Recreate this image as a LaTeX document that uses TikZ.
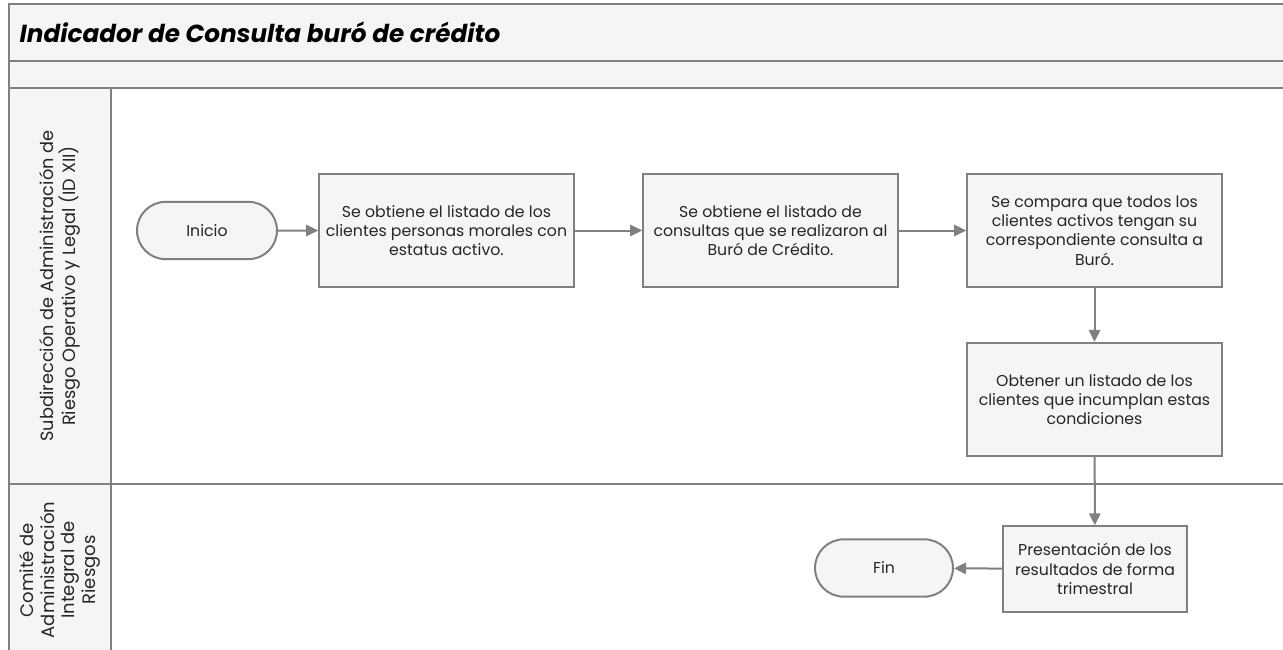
\documentclass[tikz,border=0pt]{standalone}
\usepackage{fontspec}
\setmainfont{Poppins}
\usetikzlibrary{arrows.meta,positioning,shapes.misc}
\definecolor{linegray}{RGB}{128,128,128}
\definecolor{boxgray}{RGB}{245,245,245}
\tikzset{
  lane/.style={draw=linegray,line width=1.5pt},
  proc/.style={draw=linegray,fill=boxgray,line width=1.5pt,minimum width=191pt,minimum height=85pt,inner sep=0pt,align=center,font=\fontsize{11.8}{14.5}\selectfont,text=black!85},
  term/.style={rounded rectangle,draw=linegray,fill=boxgray,line width=1.5pt,minimum width=105pt,minimum height=43pt,inner sep=0pt,font=\fontsize{11.8}{14.5}\selectfont,text=black!85},
  flow/.style={draw=linegray,line width=1.5pt,-{Triangle[length=9pt,width=8.5pt]}},
  lanelabel/.style={rotate=90,align=center,font=\fontsize{13.3}{16}\selectfont,text=black!85}
}
\begin{document}
\begin{tikzpicture}[x=0.75pt,y=-0.75pt]
\useasboundingbox (0,0) rectangle (1283,650);
\clip (0,0) rectangle (1283,650);
% pool and lanes
\fill[boxgray] (9,4) rectangle (1300,88);
\fill[boxgray] (9,88) rectangle (111,670);
\draw[lane] (1300,4) -- (9,4) -- (9,670);
\draw[lane] (9,61) -- (1300,61);
\draw[lane] (9,88) -- (1300,88);
\draw[lane] (9,484) -- (1300,484);
\draw[lane] (111,88) -- (111,670);
\node[anchor=west,font=\fontsize{18.5}{21}\selectfont\bfseries\itshape] (title) at (15,32.5) {Indicador de Consulta buró de crédito};
\node[lanelabel] (lane1) at (60,286) {Subdirección de Administración de\\Riesgo Operativo y Legal (ID XII)};
\node[lanelabel,font=\fontsize{13.5}{15.5}\selectfont] (lane2) at (60,570) {Comité de\\Administración\\Integral de\\Riesgos};
% steps
\node[term] (inicio) at (207,230.5) {Inicio};
\node[proc] (obtclientes) at (446.5,230.5) {Se obtiene el listado de los\\clientes personas morales con\\estatus activo.};
\node[proc] (obtconsultas) at (770.5,230.5) {Se obtiene el listado de\\consultas que se realizaron al\\Buró de Crédito.};
\node[proc] (compara) at (1094.5,230.5) {Se compara que todos los\\clientes activos tengan su\\correspondiente consulta a\\Buró.};
\node[proc] (incumplen) at (1094.5,399.5) {Obtener un listado de los\\clientes que incumplan estas\\condiciones};
\node[proc,minimum width=138pt,minimum height=64pt] (presenta) at (1095,569) {Presentación de los\\resultados de forma\\trimestral};
\node[term,minimum width=103.5pt] (fin) at (884,568) {Fin};
% connectors
\draw[flow] (inicio) -- (obtclientes);
\draw[flow] (obtclientes) -- (obtconsultas);
\draw[flow] (obtconsultas) -- (compara);
\draw[flow] (compara) -- (incumplen);
\draw[flow] (incumplen) -- (presenta);
\draw[flow] (presenta) -- (fin);
\end{tikzpicture}
\end{document}
